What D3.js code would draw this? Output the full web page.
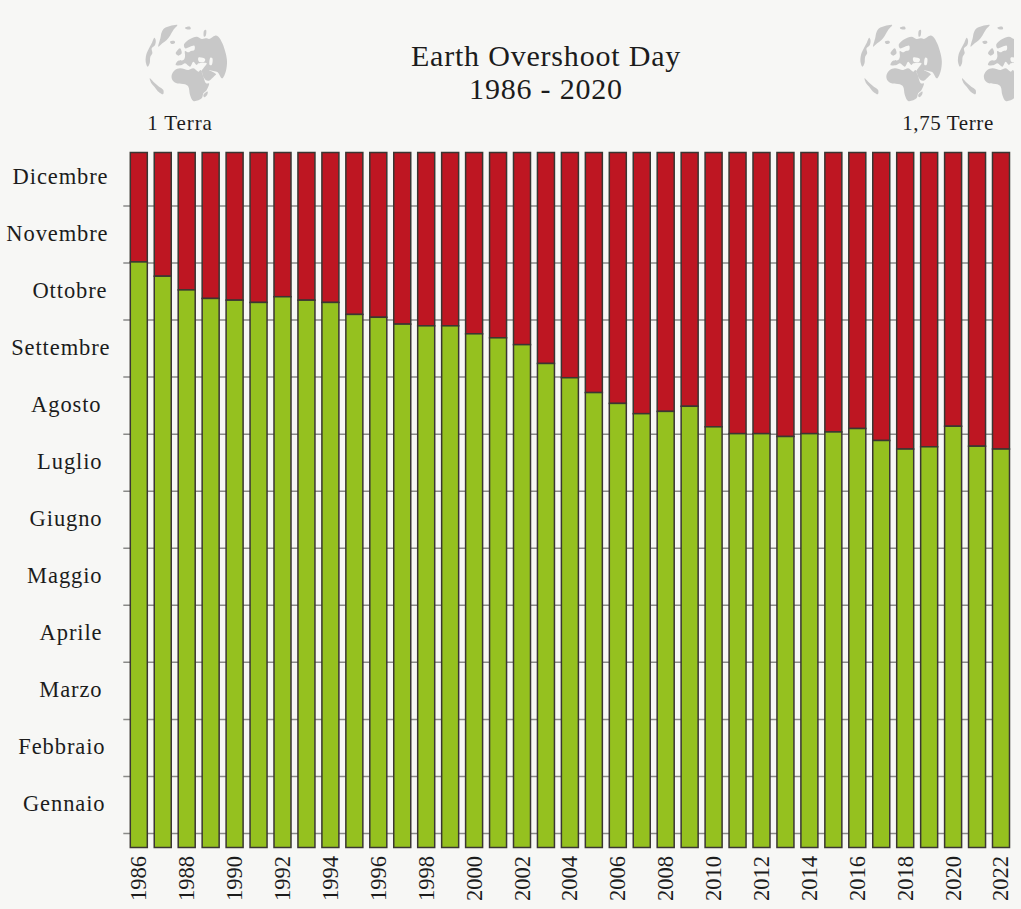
<!DOCTYPE html>
<html lang="it">
<head>
<meta charset="utf-8">
<title>Earth Overshoot Day</title>
<script src="https://cdn.jsdelivr.net/npm/d3@7"></script>
<style>
  html, body { margin: 0; padding: 0; background: #f7f7f5; }
  svg { display: block; }
  text { font-family: "Liberation Serif", serif; fill: #1c1c1c; }
</style>
</head>
<body>
<svg id="chart" width="1021" height="909"></svg>
<script>
// Years shown on the horizontal axis
const years = d3.range(1986, 2023);
// Overshoot date per year, in months elapsed since the start of January
const overshootMonths = [
  10.01, 9.76, 9.52, 9.37, 9.34, 9.30, 9.40, 9.34, 9.30, 9.09,
  9.04, 8.92, 8.89, 8.89, 8.75, 8.68, 8.56, 8.23, 7.98, 7.72,
  7.53, 7.35, 7.39, 7.48, 7.12, 7.00, 7.00, 6.95, 7.00, 7.03,
  7.09, 6.88, 6.73, 6.77, 7.13, 6.78, 6.73
];
const monthNames = ["Gennaio", "Febbraio", "Marzo", "Aprile", "Maggio", "Giugno",
  "Luglio", "Agosto", "Settembre", "Ottobre", "Novembre", "Dicembre"];
const monthTicks = d3.range(0, 12);
const yearTicks = years.filter(y => y % 2 === 0);
const titleLines = ["Earth Overshoot Day", "1986 - 2020"];

// Globe icon artwork: land outlines on a 330 x 300 drawing grid
const landOutlines = [
  // Greenland and nearby islands
  [[127,30],[105,33],[88,40],[80,52],[76,70],[70,95],[82,85],[95,75],[105,62],[115,45]],
  [[150,38],[165,35],[167,42],[155,43]],
  [[105,80],[118,78],[120,83],[110,87]],
  // Eastern North America
  [[58,68],[50,85],[42,100],[34,118],[32,140],[38,155],[44,145],[46,125],[52,115],[50,100],[60,90],[62,75]],
  // Eastern South America
  [[44,190],[55,200],[72,215],[85,225],[84,238],[72,232],[58,215],[48,203]],
  // Great Britain
  [[128,105],[135,100],[140,115],[130,122],[122,115]],
  // Eurasia, from Iberia around the northern coast and back along the Mediterranean
  [[122,150],[128,138],[145,135],[150,125],[150,108],[160,112],[168,108],[178,105],[178,92],[165,95],[150,100],[147,88],[165,72],[185,65],[200,72],[215,70],[222,72],[240,62],[250,65],[262,85],[272,115],[276,140],[272,170],[262,190],[258,188],[248,172],[235,168],[222,165],[232,170],[243,178],[238,183],[222,197],[212,195],[200,168],[205,160],[215,145],[190,145],[185,150],[175,140],[165,155],[150,145],[140,150]],
  // Novaya Zemlya
  [[207,47],[213,45],[212,62],[207,65]],
  // Africa
  [[110,180],[120,165],[135,160],[160,165],[175,160],[190,170],[197,165],[205,185],[213,205],[222,205],[215,225],[205,235],[200,250],[175,258],[165,240],[160,215],[150,208],[125,205],[112,195]],
  // Madagascar
  [[205,240],[218,230],[216,240],[208,247]]
];
// Inland seas, cut out of the land fill
const seaOutlines = [
  [[190,128],[210,132],[208,140],[192,140]],
  [[226,128],[232,130],[230,150],[224,150]]
];
const globeCentres = [[186.7, 63.3], [901.5, 63.3], [999, 63.3]];

const svg = d3.select("#chart");
const plot = { left: 130.3, right: 1009.5, top: 152.5, bottom: 847.5 };
const monthPx = 57.05;
const zeroY = 833;

const x = d3.scaleBand().domain(years).range([plot.left, plot.right]).paddingInner(0.29);
const y = d3.scaleLinear()
  .domain([(zeroY - plot.bottom) / monthPx, (zeroY - plot.top) / monthPx])
  .range([plot.bottom, plot.top]);

// Globe icons, the last one cropped by the panel's right edge
svg.append("defs").append("clipPath").attr("id", "panel")
  .append("rect").attr("width", 1014).attr("height", 909);
const globes = svg.append("g").attr("clip-path", "url(#panel)");
globeCentres.forEach(([cx, cy]) => {
  const gx = d3.scaleLinear().domain([155, 275]).range([cx, cx + 40]);
  const gy = d3.scaleLinear().domain([145, 265]).range([cy, cy + 40]);
  const outline = d3.line().x(d => gx(d[0])).y(d => gy(d[1]))
    .curve(d3.curveCatmullRomClosed.alpha(0.5));
  globes.append("path")
    .attr("d", [...landOutlines, ...seaOutlines].map(outline).join(""))
    .attr("fill", "#c8c8c8").attr("fill-rule", "evenodd");
});

// Title and globe captions
svg.append("g").selectAll("text").data(titleLines).join("text")
  .attr("x", 546).attr("y", (d, i) => 66 + i * 33)
  .attr("text-anchor", "middle")
  .attr("font-size", 30).attr("letter-spacing", 0.8)
  .text(d => d);
svg.append("text").attr("x", 180).attr("y", 130).attr("text-anchor", "middle")
  .attr("font-size", 21).attr("letter-spacing", 0.9).text("1 Terra");
svg.append("text").attr("x", 948).attr("y", 130).attr("text-anchor", "middle")
  .attr("font-size", 21).attr("letter-spacing", 0.6).text("1,75 Terre");

// Month separators, running behind the bars
const yAxis = svg.append("g").attr("transform", `translate(${plot.left},0)`)
  .call(d3.axisLeft(y).tickValues(monthTicks).tickFormat("").tickSize(0));
yAxis.select(".domain").remove();
yAxis.selectAll(".tick line")
  .attr("x1", -7).attr("x2", plot.right - plot.left)
  .attr("stroke", "#8a8a88").attr("stroke-width", 1.5);

// Month names sit halfway between two separators
const monthRight = [105.5, 105.5, 102.5, 102.5, 102.5, 102.5, 102.5, 101.5, 110.5, 107.5, 108.5, 108.5];
svg.append("g").selectAll("text").data(monthNames).join("text")
  .attr("x", (d, i) => monthRight[i])
  .attr("y", (d, i) => y(i + 0.5) - 1)
  .attr("dy", "0.35em")
  .attr("text-anchor", "end")
  .attr("font-size", 22.5).attr("letter-spacing", 0.9)
  .text(d => d);

// Stacked bars: green up to the overshoot date, red for the rest of the year
const bars = svg.append("g").selectAll("g").data(years).join("g");
bars.append("rect")
  .attr("x", d => x(d)).attr("width", x.bandwidth())
  .attr("y", y.range()[1])
  .attr("height", (d, i) => y(overshootMonths[i]) - y.range()[1])
  .attr("fill", "#be1622").attr("stroke", "#3a3632").attr("stroke-width", 1.5);
bars.append("rect")
  .attr("x", d => x(d)).attr("width", x.bandwidth())
  .attr("y", (d, i) => y(overshootMonths[i]))
  .attr("height", (d, i) => y.range()[0] - y(overshootMonths[i]))
  .attr("fill", "#95c11f").attr("stroke", "#3a3632").attr("stroke-width", 1.5);

// Year labels, every second year, reading upwards
const xAxis = svg.append("g").attr("transform", `translate(0,${plot.bottom})`)
  .call(d3.axisBottom(x).tickValues(yearTicks).tickSize(0).tickFormat(d3.format("d")));
xAxis.select(".domain").remove();
xAxis.attr("font-family", null);
xAxis.selectAll(".tick text")
  .attr("font-size", 22.5)
  .attr("text-anchor", "middle").attr("dy", null)
  .attr("y", 0)
  .attr("transform", "translate(0,31) rotate(-90)")
  .attr("dominant-baseline", "central");
</script>
</body>
</html>
